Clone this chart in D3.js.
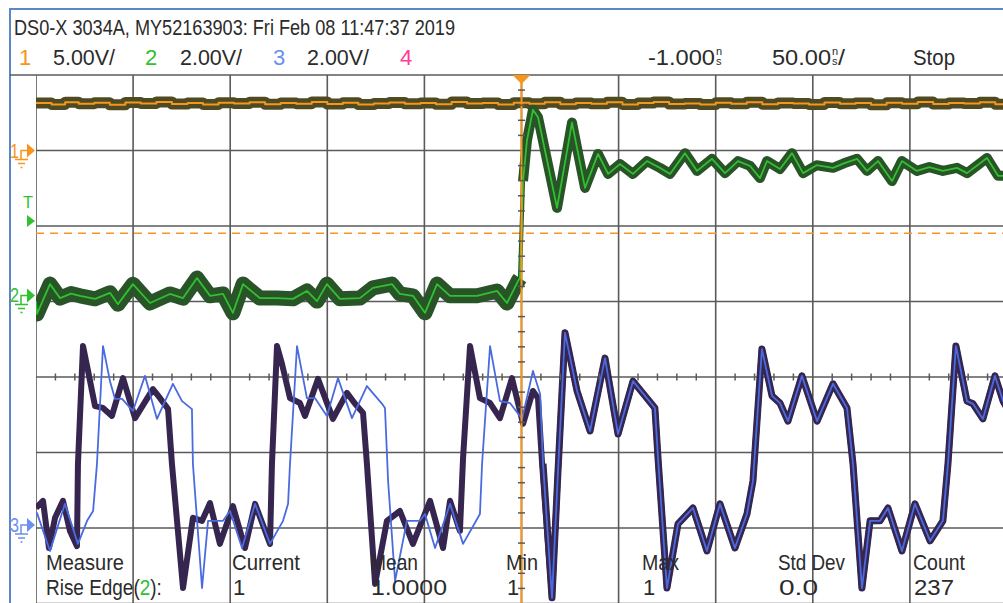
<!DOCTYPE html>
<html>
<head>
<meta charset="utf-8">
<script src="https://cdn.jsdelivr.net/npm/d3@7"></script>
<style>
  body { margin: 0; background: #fff; }
  svg { display: block; }
  text { font-family: "Liberation Sans Narrow", "Arial Narrow", "Liberation Sans", sans-serif; font-size: 22px; fill: #2b2b2b; }
</style>
</head>
<body>
<svg id="scope"></svg>
<script>
/* global d3 */

// ---- data (time in ns, value in volts) ----------------------------------

const title = 'DS0-X 3034A, MY52163903: Fri Feb 08 11:47:37 2019';
const channelNames  = ['1', '2', '3', '4'];
const channelScales = ['5.00V/', '2.00V/', '2.00V/', ''];
const timeDelay = '-1.000';
const timeBase  = '50.00';
const runState  = 'Stop';
const triggerLevel = 1.65;

const measureHeads  = ['Measure', 'Current', 'Mean', 'Min', 'Max', 'Std Dev', 'Count'];
const measureValues = ['Rise Edge(2):', '1', '1.0000', '1', '1', '0.0', '237'];

// channel 1 (5 V/div) - flat and noisy
const ch1Trace = [
  [-251, 3.14], [-243, 3.05], [-236, 3.20], [-229, 3.10], [-221, 3.16], [-213, 3.03],
  [-205, 3.18], [-197, 3.12], [-189, 3.22], [-181, 3.08], [-173, 3.15], [-165, 3.05],
  [-157, 3.17], [-149, 3.12], [-141, 3.20], [-133, 3.06], [-125, 3.14], [-117, 3.10],
  [-109, 3.22], [-101, 3.08], [-93, 3.16], [-85, 3.04], [-77, 3.12], [-69, 3.18],
  [-61, 3.09], [-53, 3.15], [-45, 3.06], [-37, 3.21], [-29, 3.11], [-21, 3.14],
  [-13, 3.04], [-5, 3.17], [3, 3.10], [11, 3.20], [19, 3.07], [27, 3.15],
  [35, 3.09], [43, 3.19], [51, 3.05], [59, 3.14], [67, 3.22], [75, 3.08],
  [83, 3.12], [91, 3.04], [99, 3.16], [107, 3.10], [115, 3.20], [123, 3.07],
  [131, 3.15], [139, 3.12], [147, 3.05], [155, 3.18], [163, 3.10], [171, 3.14],
  [179, 3.03], [187, 3.16], [195, 3.10], [203, 3.21], [211, 3.08], [219, 3.15],
  [227, 3.11], [235, 3.19], [243, 3.06], [249, 3.14],
];

// channel 2 (2 V/div) - the rising edge with ringing
const ch2Trace = [
  [-251, -0.15], [-250.5, -0.49], [-243.8, 0.30], [-238.6, -0.07], [-233, 0.05], [-228.3, -0.01],
  [-220.6, -0.09], [-212.9, 0.07], [-208.8, -0.23], [-201.1, 0.30], [-192.3, -0.20], [-182, 0.04],
  [-175.3, -0.07], [-168.1, 0.46], [-161.4, -0.01], [-154.7, 0.04], [-149.6, -0.46], [-144.4, 0.30],
  [-135.7, -0.07], [-126.9, -0.07], [-118.7, -0.09], [-111.5, 0.12], [-106.3, -0.15], [-101.2, 0.30],
  [-94.5, -0.09], [-84.2, -0.07], [-77.5, 0.20], [-67.7, 0.30], [-63.6, 0.04], [-56.9, -0.01],
  [-50.7, -0.46], [-44.5, 0.30], [-37.8, -0.01], [-23.9, -0.01], [-13.6, 0.12], [-8.5, -0.20],
  [-2.8, 0.38], [-1.8, 0.46], [-0.2, 3.03], [1.8, 4.10], [4.9, 4.92], [7.5, 4.72],
  [17.3, 2.32], [25, 4.58], [31.7, 2.85], [38.4, 3.75], [43.6, 3.22], [49.7, 3.48],
  [56.4, 3.22], [63.6, 3.56], [70.3, 3.38], [75.5, 3.22], [83.2, 3.77], [89.4, 3.30],
  [97.1, 3.62], [103.8, 3.24], [110.5, 3.56], [116.7, 3.43], [121.8, 3.11], [125.4, 3.56],
  [132.1, 3.35], [138.3, 3.77], [144, 3.24], [151, 3.45], [159.4, 3.38], [165, 3.50],
  [171.8, 3.62], [176.9, 3.30], [182.6, 3.56], [189.8, 3.03], [194.9, 3.56], [202.6, 3.30],
  [209, 3.40], [216, 3.30], [223.3, 3.38], [228.4, 3.24], [238.7, 3.64], [244.4, 3.17],
  [249, 3.17],
];

// channel 3 (2 V/div) - last acquisition
const ch3Last = [
  [-251, 0.29], [-250.5, 0.32], [-243.8, -0.69], [-236.1, 0.56], [-229.4, -0.50], [-224.7, 0.11],
  [-221.6, 0.37], [-219.6, 1.62], [-216.5, 4.74], [-212.9, 3.81], [-210.3, 3.34], [-206.7, 3.34],
  [-201.1, 3.02], [-194.9, 3.95], [-188.7, 2.81], [-180.5, 3.74], [-175.8, 3.28], [-170.7, 3.07],
  [-170.2, 1.62], [-165.5, -1.67], [-162.4, 0.11], [-154.7, 0.11], [-151.1, 0.37], [-144.9, -0.61],
  [-138.2, 0.56], [-130.5, -0.50], [-123.8, 0.11], [-121.2, 0.56], [-120.2, 1.62], [-116.6, 4.74],
  [-111.5, 3.36], [-107.3, 3.36], [-101.2, 2.89], [-95.5, 3.89], [-88.3, 2.83], [-80.6, 3.68],
  [-72.8, 3.21], [-71.3, 3.10], [-69.7, 1.17], [-66.1, -1.48], [-60, 0.11], [-53.3, 0.11],
  [-50.7, 0.29], [-45.5, -0.61], [-37.8, 0.56], [-31.1, -0.50], [-22.4, 0.29], [-21.3, 1.62],
  [-17.2, 4.74], [-12.1, 3.28], [-6.9, 3.23], [-0.7, 2.81], [4.9, 4.08], [8.6, 3.47],
  [10.1, 1.62], [14.7, -1.93], [17.8, 1.43], [21.4, 5.09], [27.6, 3.55], [34.3, 2.49],
  [42, 4.42], [48.7, 2.41], [56.4, 3.81], [62.6, 3.42], [67.7, 3.10], [69.3, 1.77],
  [73.9, -1.67], [79.6, 0.03], [87.3, 0.45], [94.5, -0.69], [101.2, 0.56], [108.9, -0.61],
  [115.1, 0.29], [118.2, 1.17], [122.8, 4.66], [128, 3.42], [132.1, 3.23], [136.2, 2.75],
  [143.4, 3.95], [151.2, 2.75], [159.4, 3.74], [166.6, 3.10], [169.7, 1.62], [174.3, -1.67],
  [178.5, 0.11], [183.6, 0.11], [187.7, 0.45], [194.9, -0.69], [201.6, 0.56], [209.4, -0.42],
  [216, 0.11], [218.6, 1.62], [222.7, 4.74], [228.4, 3.28], [231.5, 3.21], [236.6, 2.81],
  [242.8, 3.95], [247, 3.28], [249, 3.10],
];

// channel 3 persistence, before the trigger (after it, it follows ch3Last)
const ch3PersistPre = [
  [-251, 0.45], [-247.4, 0.64], [-244.3, -0.61], [-241.2, 0.19], [-237.1, 0.64], [-233.5, -0.16],
  [-229.9, -0.56], [-229.4, 1.62], [-226.8, 4.74], [-224.2, 4.08], [-220.6, 3.15], [-216.5, 3.10],
  [-211.9, 2.89], [-206.2, 3.89], [-200, 2.83], [-190.8, 3.60], [-187.1, 3.36], [-183, 3.07],
  [-181, 1.62], [-175.3, -1.67], [-170.2, 0.19], [-165.5, 0.11], [-161.4, 0.58], [-156.3, -0.50],
  [-149.6, 0.50], [-143.4, -0.61], [-138.2, 0.56], [-130.5, -0.50], [-129.5, 1.62], [-126.9, 4.74],
  [-124.3, 4.26], [-120.2, 3.36], [-115.1, 3.23], [-112.5, 2.89], [-105.8, 3.87], [-98.1, 2.81],
  [-90.9, 3.50], [-86.7, 3.21], [-82.6, 2.97], [-80.6, 1.62], [-76.4, -1.56], [-70.3, 0.11],
  [-63.6, 0.37], [-56.9, -0.50], [-48.1, 0.64], [-41.4, -0.61], [-37.8, 0.64], [-32.7, -0.16],
  [-31.1, 1.77], [-27.5, 4.74], [-22.4, 3.36], [-17.2, 3.23], [-12.1, 2.83], [-5.9, 3.89],
  [-0.2, 2.68], [4.9, 3.55], [7.5, 3.36], [9.6, 1.62],
];

// ---- layout ---------------------------------------------------------------

const WIDTH  = 1003;
const HEIGHT = 603;
const plot = { left: 36, right: 1007, top: 75, bottom: 679 };

const COLORS = {
  text:    '#2b2b2b',
  grid:    '#5a5a5a',
  frame:   '#5b87c8',
  ch1:     '#f7961e',
  ch1Env:  '#4e4b22',
  ch2:     '#30c030',
  ch2Env:  '#285428',
  ch3:     '#4a6be0',
  ch3Env:  '#36264f',
  ch4:     '#ff3c96',
  ch3Text: '#6b8ff0',
};

const x = d3.scaleLinear().domain([-251, 249]).range([plot.left, plot.right]);
const div = d3.scaleLinear().domain([4, -4]).range([plot.top, plot.bottom]);

// per channel: volts/div and ground position in divisions above centre
const channelScale = (perDiv, groundDiv) => d3.scaleLinear()
  .domain([(-4 - groundDiv) * perDiv, (4 - groundDiv) * perDiv])
  .range([plot.bottom, plot.top]);

const y1 = channelScale(5, 3.0);
const y2 = channelScale(2, 1.08);
const y3 = channelScale(2, -1.96);

const svg = d3.select('#scope')
  .attr('width', WIDTH)
  .attr('height', HEIGHT);

svg.append('rect').attr('width', WIDTH).attr('height', HEIGHT).attr('fill', '#fff');

svg.append('clipPath').attr('id', 'screen')
  .append('rect')
  .attr('x', plot.left).attr('y', plot.top)
  .attr('width', WIDTH - plot.left).attr('height', HEIGHT - plot.top);

// frame
svg.append('path')
  .attr('d', `M10,${HEIGHT} V9 H${WIDTH}`)
  .attr('fill', 'none').attr('stroke', COLORS.frame).attr('stroke-width', 2);

//-------------------------------------------------
// graticule

const gridG = svg.append('g').attr('clip-path', 'url(#screen)');

gridG.selectAll('.vline')
  .data(d3.range(-251, 250, 50))
  .enter().append('line')
  .attr('x1', d => x(d)).attr('x2', d => x(d))
  .attr('y1', plot.top).attr('y2', HEIGHT)
  .attr('stroke', COLORS.grid).attr('stroke-width', 1.6);

svg.selectAll('.hline')
  .data(d3.range(4, -4, -1))
  .enter().append('line')
  .attr('x1', d => (d === 4 ? 10 : plot.left)).attr('x2', WIDTH)
  .attr('y1', d => div(d)).attr('y2', d => div(d))
  .attr('stroke', COLORS.grid).attr('stroke-width', 1.6);

// trigger level
svg.append('line')
  .attr('x1', plot.left).attr('x2', WIDTH)
  .attr('y1', y2(triggerLevel)).attr('y2', y2(triggerLevel))
  .attr('stroke', COLORS.ch1).attr('stroke-width', 1.5)
  .attr('stroke-dasharray', '8,6');

//-------------------------------------------------
// traces

const traceG = svg.append('g').attr('clip-path', 'url(#screen)');

const drawTrace = function (data, yScale, color, width, curve) {
  const line = d3.line()
    .x(d => x(d[0]))
    .y(d => yScale(d[1]))
    .curve(curve || d3.curveLinear);
  traceG.append('path')
    .datum(data)
    .attr('d', line)
    .attr('fill', 'none')
    .attr('stroke', color)
    .attr('stroke-width', width)
    .attr('stroke-linejoin', 'round');
};

// channel 1
drawTrace(ch1Trace, y1, COLORS.ch1Env, 11, d3.curveStepAfter);
drawTrace(ch1Trace, y1, COLORS.ch1, 2, d3.curveStepAfter);

// channel 3
const ch3Persist = ch3PersistPre.concat(ch3Last.filter(d => d[0] > 12));
drawTrace(ch3Persist, y3, COLORS.ch3Env, 6);
drawTrace(ch3Last.filter(d => d[0] > 9), y3, COLORS.ch3Env, 7);
drawTrace(ch3Last, y3, COLORS.ch3, 1.8);

// trigger position
svg.append('line')
  .attr('x1', x(-1)).attr('x2', x(-1))
  .attr('y1', plot.top).attr('y2', HEIGHT)
  .attr('stroke', COLORS.ch1).attr('stroke-width', 2);

// centre ticks
svg.selectAll('.htick')
  .data(d3.range(-251, 249, 10).filter(t => (t + 251) % 50 !== 0))
  .enter().append('line')
  .attr('x1', d => x(d)).attr('x2', d => x(d))
  .attr('y1', div(0) - 3.5).attr('y2', div(0) + 3.5)
  .attr('stroke', COLORS.grid).attr('stroke-width', 1.5);

svg.selectAll('.vtick')
  .data(d3.range(-19, 20).map(i => i / 5).filter(d => Math.abs(d * 5 % 5) > 0.01))
  .enter().append('line')
  .attr('x1', x(-1) - 3.5).attr('x2', x(-1) + 3.5)
  .attr('y1', d => div(d)).attr('y2', d => div(d))
  .attr('stroke', COLORS.grid).attr('stroke-width', 1.5);

// channel 2
drawTrace(ch2Trace.filter(d => d[0] <= -1.8), y2, COLORS.ch2Env, 15);
drawTrace(ch2Trace.filter(d => d[0] >= -0.2), y2, COLORS.ch2Env, 10);
drawTrace(ch2Trace.filter(d => d[0] >= -1.8 && d[0] <= -0.2), y2, COLORS.ch2Env, 4);
drawTrace(ch2Trace, y2, COLORS.ch2, 1.8);

// trigger marker
const tx = x(-1);
svg.append('path')
  .attr('d', `M${tx - 9},${plot.top} L${tx + 9},${plot.top} L${tx},${plot.top + 9} Z`)
  .attr('fill', COLORS.ch1);

//-------------------------------------------------
// text

const label = function (str, lx, ly, width, color, size) {
  const t = svg.append('text').attr('x', lx).attr('y', ly).text(str);
  if (width) t.attr('textLength', width).attr('lengthAdjust', 'spacingAndGlyphs');
  if (color) t.style('fill', color);
  if (size) t.style('font-size', `${size}px`);
  return t;
};

label(title, 14, 35, 441);

const nameColors = [COLORS.ch1, COLORS.ch2, COLORS.ch3Text, COLORS.ch4];
const nameX  = [19, 145, 273, 400];
const scaleX = [53, 180, 307];
channelNames.forEach((n, i) => {
  label(n, nameX[i], 65, null, nameColors[i]);
  if (channelScales[i]) label(channelScales[i], scaleX[i], 65, 62);
});

label(timeDelay, 648, 65, 67);
label('n', 716, 55, null, null, 11);
label('s', 716, 65, null, null, 11);
label(timeBase, 772, 65, 59);
label('n', 832, 55, null, null, 11);
label('s', 832, 65, null, null, 11);
label('/', 838, 65, 7);
label(runState, 913, 65, 42);

const headX = [46, 232, 370, 506, 642, 778, 913];
const headW = [78, 68, 48, 32, 37, 67, 52];
measureHeads.forEach((h, i) => label(h, headX[i], 570, headW[i]));

// first value keeps the source channel number in its colour; squeezed by a
// horizontal scale so the coloured part stays in place
const riseG = svg.append('g');
const riseText = riseG.append('text').attr('x', 0).attr('y', 0);
const m = measureValues[0].match(/^(.*\()(\d)(\).*)$/);
riseText.append('tspan').text(m[1]);
riseText.append('tspan').text(m[2]).style('fill', COLORS.ch2);
riseText.append('tspan').text(m[3]);
const riseScale = 116 / riseText.node().getComputedTextLength();
riseG.attr('transform', `translate(46,595) scale(${riseScale},1)`);

const valueW = [null, null, 76, null, null, 39, 40];
measureValues.slice(1).forEach((v, i) => label(v, headX[i + 1] + 1, 595, valueW[i + 1]));

//-------------------------------------------------
// channel markers on the left edge

const marker = function (name, gy, color) {
  label(name, 10, gy + 7, 9, color, 20);
  svg.append('path')
    .attr('d', `M27,${gy - 7} L35,${gy} L27,${gy + 7} Z`)
    .attr('fill', color);
  svg.append('path')
    .attr('d', `M27,${gy} H21 V${gy + 9} M15,${gy + 9} H28 M18,${gy + 13} H25 M20.5,${gy + 17} H22.5`)
    .attr('fill', 'none').attr('stroke', color).attr('stroke-width', 1.5);
};

marker('1', y1(0), COLORS.ch1);
marker('2', y2(0), COLORS.ch2);
marker('3', y3(0), COLORS.ch3Text);

label('T', 23, 208, 10, COLORS.ch2, 16);
svg.append('path')
  .attr('d', 'M27,215 L35,221 L27,227 Z')
  .attr('fill', COLORS.ch2);
</script>
</body>
</html>
